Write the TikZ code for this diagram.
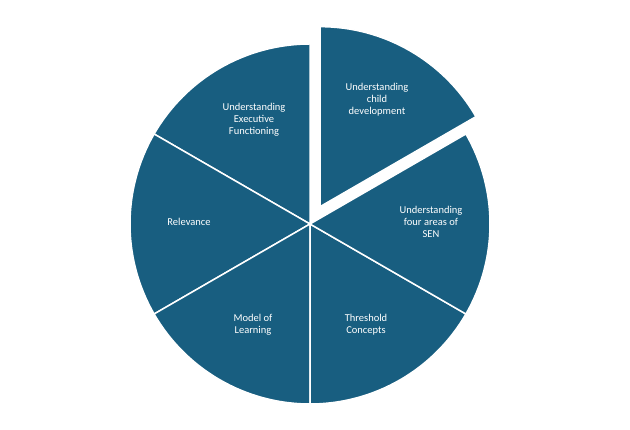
\documentclass[tikz,border=0pt]{standalone}
\usepackage{fontspec}
\setmainfont{Carlito}
\usetikzlibrary{calc}
\begin{document}
\begin{tikzpicture}[x=1pt,y=1pt,
  slice/.style={fill={rgb,255:red,24;green,94;blue,128},draw=white,line width=1.5pt},
  lbl/.style={text=white,align=center,font=\fontsize{10.5}{12}\selectfont}]
\useasboundingbox (0,0) rectangle (630,430);
\coordinate (c) at (310,206);
\coordinate (ce) at ($(310,206)+(60:20)$);
\foreach \a in {90,150,210,270,330}{
  \draw[slice] (c) -- ++(\a:180) arc (\a:\a+60:180) -- cycle;}
\draw[slice] (ce) -- ++(30:180) arc (30:90:180) -- cycle;
\node[lbl] (t1) at (377,330) {Understanding\\child\\development};
\node[lbl] (t2) at (431,208) {Understanding\\four areas of\\SEN};
\node[lbl] (t3) at (366,105) {Threshold\\Concepts};
\node[lbl] (t4) at (253,105) {Model of\\Learning};
\node[lbl] (t5) at (189,208) {Relevance};
\node[lbl] (t6) at (254,310) {Understanding\\Executive\\Functioning};
\end{tikzpicture}
\end{document}
